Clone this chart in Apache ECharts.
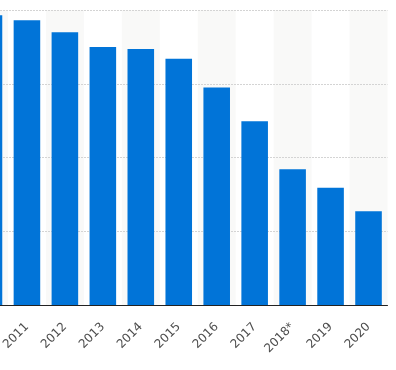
<!DOCTYPE html>
<html>
<head>
<meta charset="utf-8">
<script src="https://cdn.jsdelivr.net/npm/echarts@6/dist/echarts.min.js"></script>
<style>
html,body{margin:0;padding:0;background:#fff;overflow:hidden;}
#wrap{width:396px;height:370px;overflow:hidden;position:relative;}
#chart{width:426px;height:370px;position:absolute;left:-30px;top:0;}
</style>
</head>
<body>
<div id="wrap"><div id="chart"></div></div>
<script>
const categories = ['2010', '2011', '2012', '2013', '2014', '2015', '2016', '2017', '2018*', '2019', '2020'];
const values = [3.93, 3.86, 3.70, 3.50, 3.47, 3.34, 2.95, 2.49, 1.84, 1.59, 1.27];
const yTicks = { min: 0, max: 4, interval: 1 };

const chart = echarts.init(document.getElementById('chart'), null, { renderer: 'canvas' });
chart.setOption({
  animation: false,
  grid: { left: 0, right: 8.5, top: 10, bottom: 65, containLabel: false, outerBoundsMode: 'none' },
  xAxis: {
    type: 'category',
    data: categories,
    z: 1,
    axisLine: { show: true, lineStyle: { color: '#222', width: 1 } },
    axisTick: { show: false },
    axisLabel: {
      interval: 0, rotate: 45, color: '#4d4d4d', fontSize: 12,
      fontFamily: 'DejaVu Sans', margin: 20
    },
    splitArea: { show: true, areaStyle: { color: ['#f9f9f8', 'rgba(255,255,255,0)'] } }
  },
  yAxis: {
    type: 'value',
    z: 2,
    min: yTicks.min, max: yTicks.max, interval: yTicks.interval,
    axisLabel: { show: false },
    axisLine: { show: false },
    axisTick: { show: false },
    splitLine: { show: true, showMinLine: false, lineStyle: { color: '#d4d4d4', type: [2, 1], width: 1 } }
  },
  series: [{
    type: 'bar',
    z: 3,
    data: values,
    barWidth: '70%',
    itemStyle: { color: '#0174d8' }
  }]
});
</script>
</body>
</html>
